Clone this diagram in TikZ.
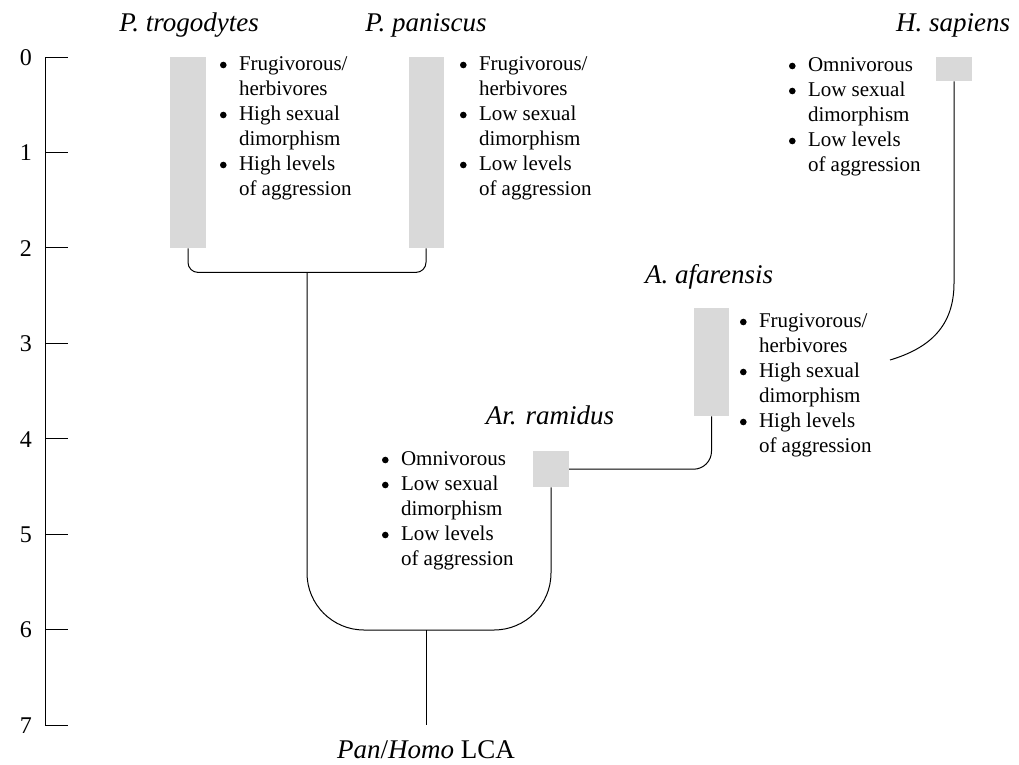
\documentclass[tikz,border=0pt]{standalone}
\usepackage{fontspec}
\setmainfont{Liberation Serif}
\definecolor{barfill}{HTML}{D9D9D9}
% bulleted list of traits, one \item-like row per line
\newcommand{\traitlist}[1]{{\fontsize{21}{25}\selectfont
  \begin{tabular}[t]{@{}l@{\hspace{12pt}}l@{}}#1\end{tabular}}}
% round list marker, centred a little above the baseline
\newcommand{\tb}{\makebox[7.4pt][c]{\tikz[baseline=-5pt]\fill[black] (0pt,0pt) circle[radius=3.3pt];}}
\begin{document}
\begin{tikzpicture}[x=1pt,y=-1pt,
  bar/.style={fill=barfill,draw=none,inner sep=0,minimum width=36,anchor=north},
  taxon/.style={font=\fontsize{27}{31}\selectfont\itshape,inner sep=0,anchor=base},
  traits/.style={inner sep=0,anchor=base west},
  tick/.style={font=\fontsize{24}{28}\selectfont,inner sep=0,anchor=east},
  link/.style={draw=black,line width=1pt},
]
\useasboundingbox (0,0) rectangle (1019,764);

% time axis (million years ago)
\draw[link] (45,57) -- (45,725);
\foreach \i in {0,...,7}{
  \draw[link] (45,57+95.43*\i) -- (68,57+95.43*\i);
  \node[tick] (tick\i) at (32,57.5+95.43*\i) {\i};
}

% species ranges
\node[bar,minimum height=191] (trog) at (188,57) {};
\node[bar,minimum height=191,minimum width=35] (pan) at (426,57) {};
\node[bar,minimum height=24] (sap) at (954,57) {};
\node[bar,minimum height=108,minimum width=35] (afar) at (711.5,308) {};
\node[bar,minimum height=36] (ram) at (551,451) {};

% species names
\node[taxon] (trogname) at (189,31) {P. trogodytes};
\node[taxon] (panname) at (426,31) {P. paniscus};
\node[taxon] (sapname) at (953,31) {H. sapiens};
\node[taxon] (afarname) at (709,283) {A. afarensis};
\node[taxon] (ramname) at (550,424) {Ar. ramidus};
\node[inner sep=0,anchor=base,font=\fontsize{27}{31}\selectfont] (lca) at (426,758)
  {\textit{Pan}/\textit{Homo} LCA};

% traits
\node[traits] (trogtraits) at (219.4,70) {\traitlist{%
  \tb & Frugivorous/\\ & herbivores\\ \tb & High sexual\\ & dimorphism\\
  \tb & High levels\\ & of aggression}};
\node[traits] (pantraits) at (459.4,70) {\traitlist{%
  \tb & Frugivorous/\\ & herbivores\\ \tb & Low sexual\\ & dimorphism\\
  \tb & Low levels\\ & of aggression}};
\node[traits] (saptraits) at (788.4,71) {\traitlist{%
  \tb & Omnivorous\\ \tb & Low sexual\\ & dimorphism\\
  \tb & Low levels\\ & of aggression}};
\node[traits] (afartraits) at (739.4,327) {\traitlist{%
  \tb & Frugivorous/\\ & herbivores\\ \tb & High sexual\\ & dimorphism\\
  \tb & High levels\\ & of aggression}};
\node[traits] (ramtraits) at (381.4,465) {\traitlist{%
  \tb & Omnivorous\\ \tb & Low sexual\\ & dimorphism\\
  \tb & Low levels\\ & of aggression}};

% branch points
\coordinate (split) at (307,272);
\coordinate (base) at (426,630);
\coordinate (root) at (426,725);
\coordinate (sapend) at (890,360);

% Pan clade
\draw[link,rounded corners=10] (trog.south) -- ++(0,24) -| (pan.south);
% split from the Pan line to the hominin line
\draw[link,rounded corners=57] (split) -- (split |- base) -- (ram.south |- base) -- (ram.south);
\draw[link] (base) -- (root);
% Ardipithecus to Australopithecus
\draw[link,rounded corners=18] (afar.south) |- (ram.east);
% Homo sapiens lineage
\draw[link] (sap.south) -- (954,283) .. controls (954,326) and (930,348) .. (sapend);
\end{tikzpicture}
\end{document}
